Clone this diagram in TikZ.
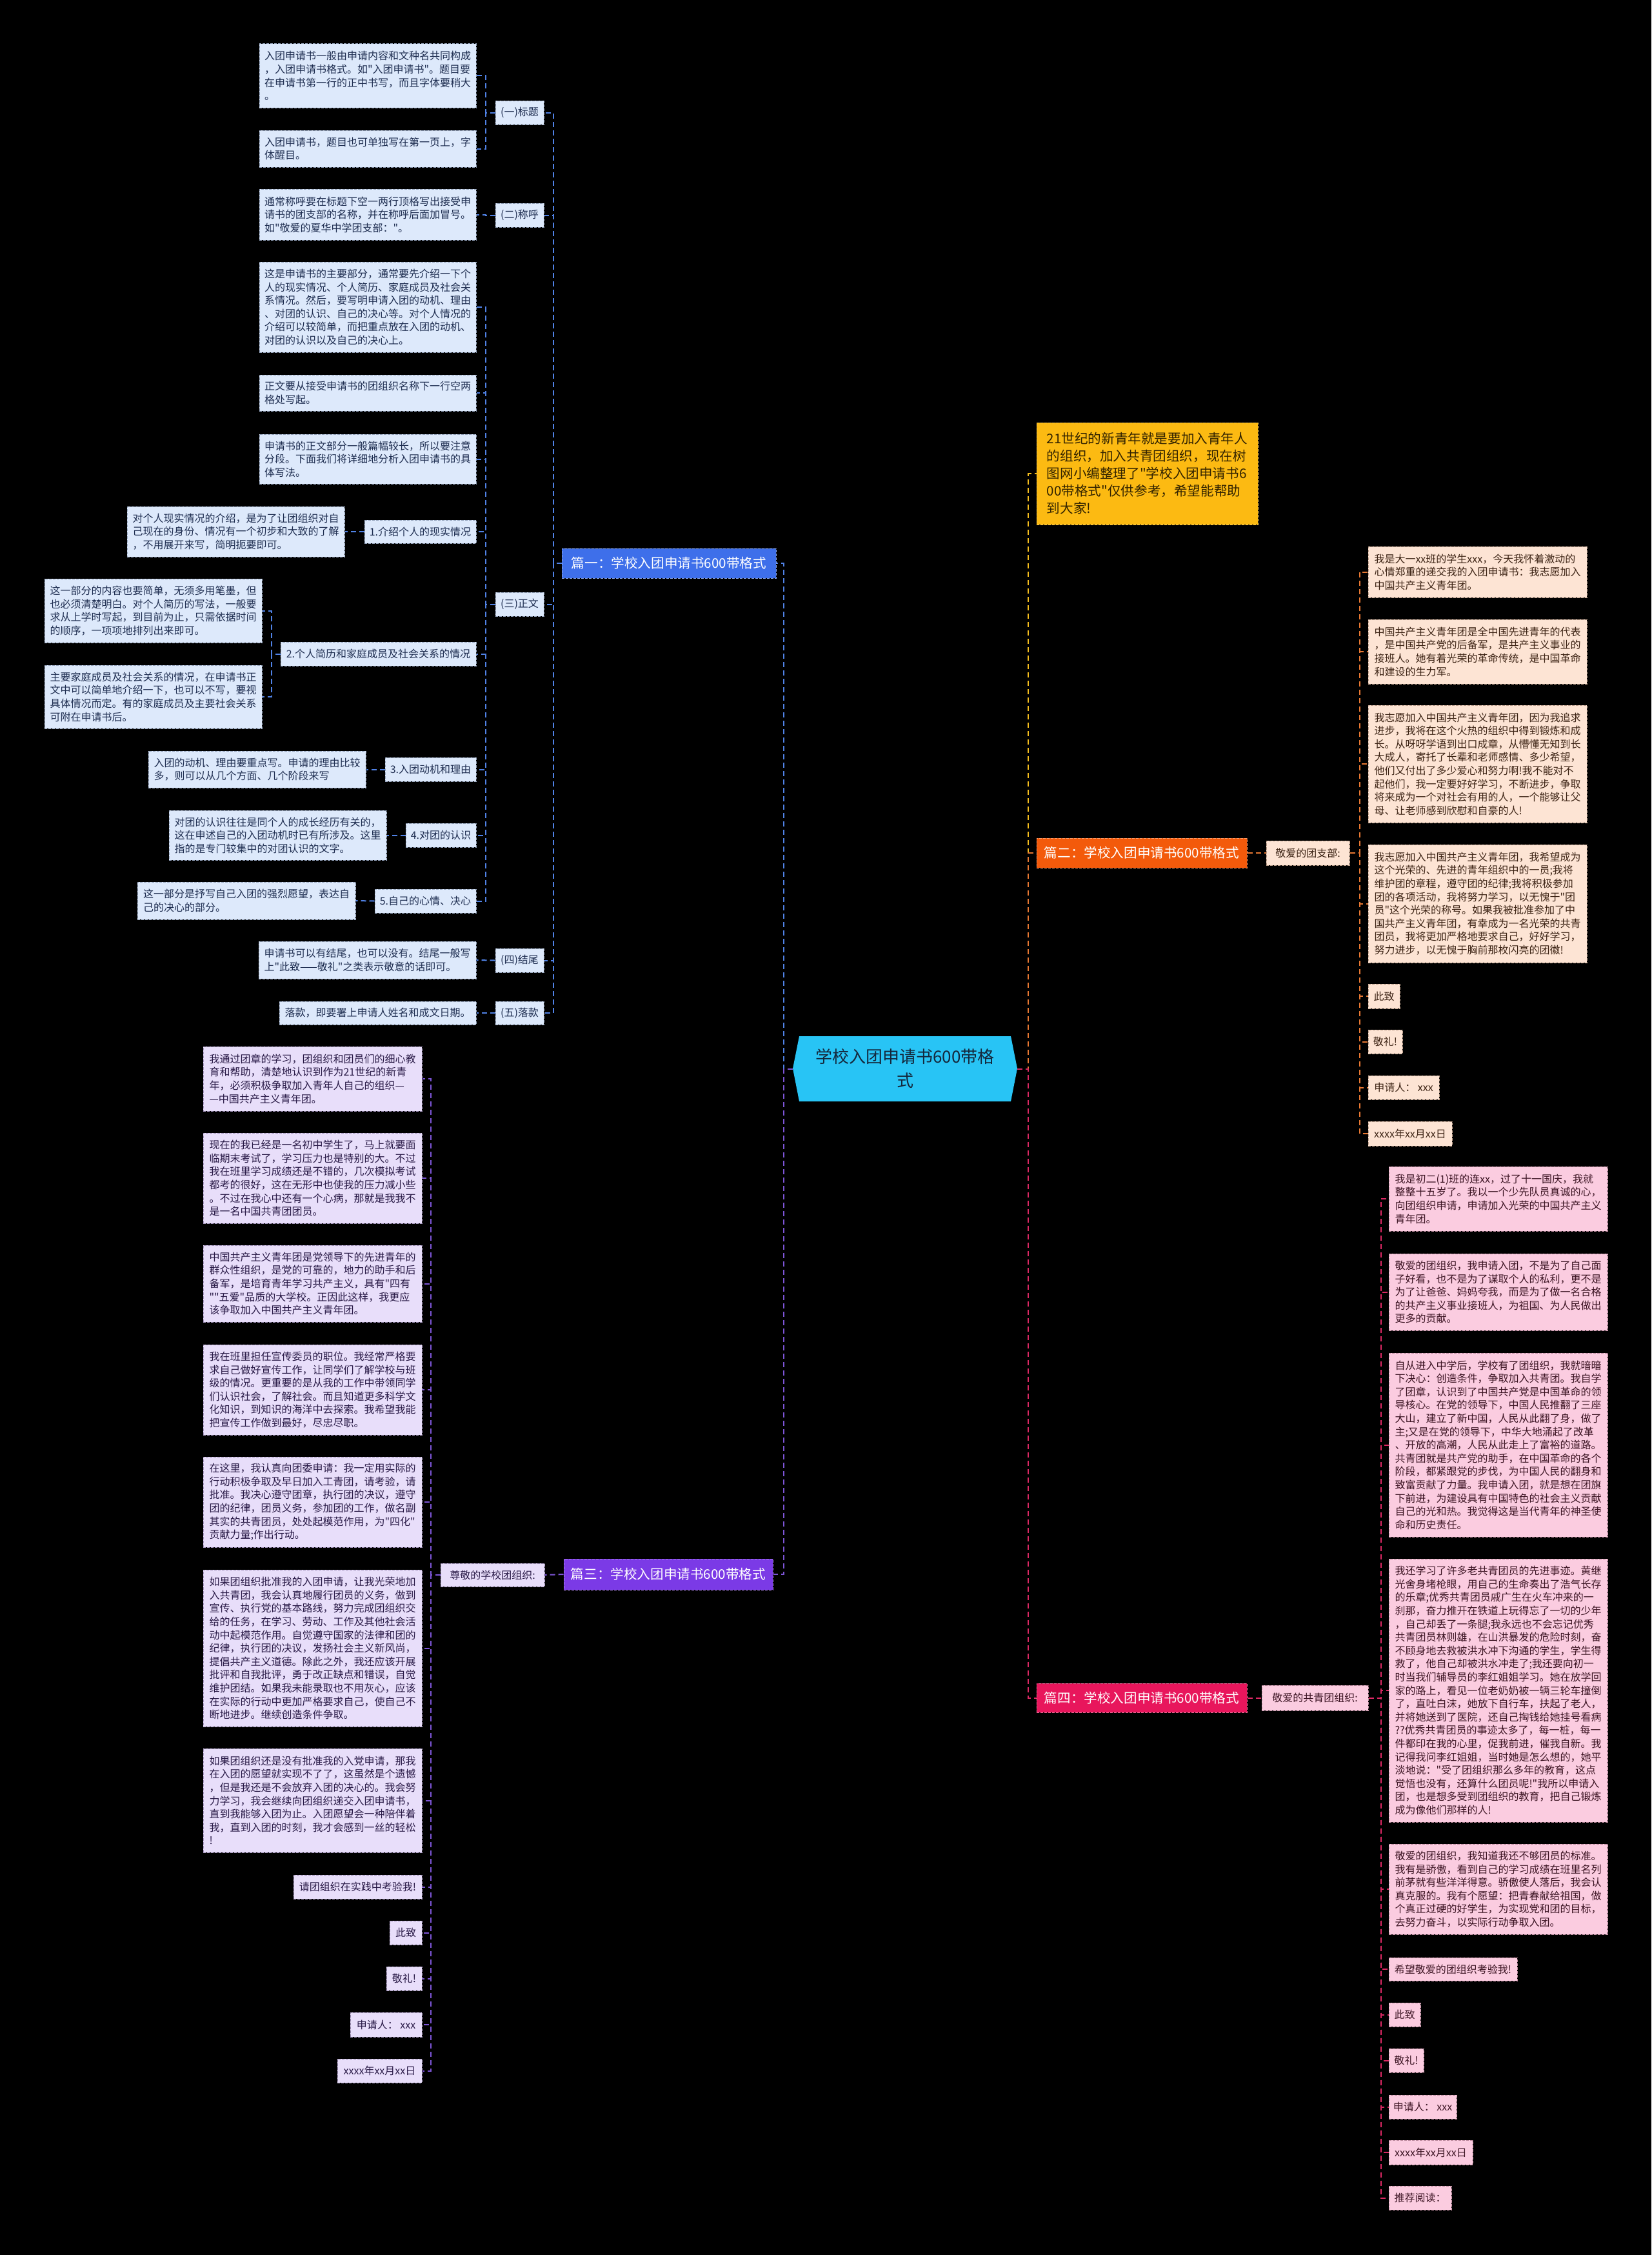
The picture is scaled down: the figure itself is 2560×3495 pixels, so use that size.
\documentclass[tikz,border=0pt]{standalone}
\usepackage{fontspec}
\setmainfont{Noto Sans CJK SC}[Ligatures=TeXOff]
\definecolor{bfill}{RGB}{221,233,251}
\definecolor{btext}{RGB}{30,45,80}
\definecolor{bbord}{RGB}{150,165,190}
\definecolor{ofill}{RGB}{253,228,212}
\definecolor{otext}{RGB}{60,35,20}
\definecolor{obord}{RGB}{190,160,140}
\definecolor{pfill}{RGB}{232,222,250}
\definecolor{ptext}{RGB}{40,25,70}
\definecolor{pbord}{RGB}{165,150,190}
\definecolor{kfill}{RGB}{251,204,224}
\definecolor{ktext}{RGB}{60,20,35}
\definecolor{kbord}{RGB}{190,140,160}
\definecolor{yfill}{RGB}{252,186,18}
\definecolor{ytext}{RGB}{50,35,0}
\definecolor{rootc}{RGB}{40,196,245}
\definecolor{n1c}{RGB}{62,111,234}
\definecolor{n2c}{RGB}{243,90,11}
\definecolor{n3c}{RGB}{123,58,230}
\definecolor{n4c}{RGB}{232,22,92}
\definecolor{lnblue}{RGB}{80,130,230}
\definecolor{lnorg}{RGB}{232,120,50}
\definecolor{lnpur}{RGB}{125,85,215}
\definecolor{lncrm}{RGB}{220,40,100}
\definecolor{lnyel}{RGB}{245,190,30}
\tikzset{
  box/.style={rectangle, inner xsep=3pt, inner ysep=1pt, align=left,
    font=\fontsize{8}{10.3}\selectfont, dash pattern=on 2pt off 1pt, line width=0.5pt},
  bbox/.style={box, fill=bfill, draw=bbord, text=btext},
  obox/.style={box, fill=ofill, draw=obord, text=otext},
  pbox/.style={box, fill=pfill, draw=pbord, text=ptext},
  kbox/.style={box, fill=kfill, draw=kbord, text=ktext},
  ybox/.style={box, fill=yfill, draw=yfill!70!white, text=ytext, font=\fontsize{10.3}{13.5}\selectfont},
  branch/.style={rectangle, inner sep=2pt, font=\fontsize{10.3}{12}\selectfont, text=white,
    dash pattern=on 2pt off 1pt, line width=0.5pt},
  lb/.style={draw=lnblue, line width=1pt, dash pattern=on 4pt off 2.5pt},
  lo/.style={draw=lnorg, line width=1pt, dash pattern=on 4pt off 2.5pt},
  lp/.style={draw=lnpur, line width=1pt, dash pattern=on 4pt off 2.5pt},
  lc/.style={draw=lncrm, line width=1pt, dash pattern=on 4pt off 2.5pt},
  ly/.style={draw=lnyel, line width=1pt, dash pattern=on 4pt off 2.5pt},
}
\newcommand\bx[7]{%
  \pgfmathsetmacro\bxw{(#5-#3)*0.5}%
  \pgfmathsetmacro\bxh{(#6-#4)*0.5}%
  \pgfmathsetmacro\bxx{(#3+#5)/2}%
  \pgfmathsetmacro\bxy{(#4+#6)/2}%
  \node[#1,minimum width=\bxw pt,minimum height=\bxh pt] (#2) at (\bxx,\bxy) {#7};%
}
\begin{document}
\begin{tikzpicture}[x=0.5pt,y=-0.5pt]
\useasboundingbox (0,0) rectangle (2560,3495);
\fill[black] (0,0) rectangle (2560,3495);
% root
\fill[rootc] (1239,1606) -- (1229,1656) -- (1239,1707) -- (1567,1707) -- (1577,1656) -- (1567,1606) -- cycle;
\bx{rectangle, inner sep=0pt, align=center, text={rgb,255:red,20;green,40;blue,60}, font=\fontsize{13}{18.5}\selectfont}{root}{1229}{1606}{1577}{1707}{学校入团申请书600带格\\式}
% branch 1
\bx{branch, fill=n1c, draw=n1c!60!white}{p1}{871}{850}{1203}{896}{篇一：学校入团申请书600带格式}
\bx{bbox, align=center}{s1}{768}{156}{843}{193}{(一)标题}
\bx{bbox, align=center}{s2}{768}{315}{843}{352}{(二)称呼}
\bx{bbox, align=center}{s3}{768}{918}{843}{955}{(三)正文}
\bx{bbox, align=center}{s4}{768}{1470}{843}{1507}{(四)结尾}
\bx{bbox, align=center}{s5}{768}{1552}{843}{1588}{(五)落款}
\bx{bbox}{b1a}{402}{68}{738}{167}{入团申请书一般由申请内容和文种名共同构成\\，入团申请书格式。如"入团申请书"。题目要\\在申请书第一行的正中书写，而且字体要稍大\\。}
\bx{bbox}{b1b}{402}{202}{738}{259}{入团申请书，题目也可单独写在第一页上，字\\体醒目。}
\bx{bbox}{b2}{402}{293}{738}{372}{通常称呼要在标题下空一两行顶格写出接受申\\请书的团支部的名称，并在称呼后面加冒号。\\如"敬爱的夏华中学团支部："。}
\bx{bbox}{b3a}{402}{406}{738}{546}{这是申请书的主要部分，通常要先介绍一下个\\人的现实情况、个人简历、家庭成员及社会关\\系情况。然后，要写明申请入团的动机、理由\\、对团的认识、自己的决心等。对个人情况的\\介绍可以较简单，而把重点放在入团的动机、\\对团的认识以及自己的决心上。}
\bx{bbox}{b3b}{402}{581}{738}{637}{正文要从接受申请书的团组织名称下一行空两\\格处写起。}
\bx{bbox}{b3c}{402}{673}{738}{750}{申请书的正文部分一般篇幅较长，所以要注意\\分段。下面我们将详细地分析入团申请书的具\\体写法。}
\bx{bbox, align=center}{t1}{565}{806}{738}{842}{1.介绍个人的现实情况}
\bx{bbox}{t1c}{197}{785}{534}{863}{对个人现实情况的介绍，是为了让团组织对自\\己现在的身份、情况有一个初步和大致的了解\\，不用展开来写，简明扼要即可。}
\bx{bbox, align=center}{t2}{435}{995}{738}{1032}{2.个人简历和家庭成员及社会关系的情况}
\bx{bbox}{t2a}{69}{897}{406}{996}{这一部分的内容也要简单，无须多用笔墨，但\\也必须清楚明白。对个人简历的写法，一般要\\求从上学时写起，到目前为止，只需依据时间\\的顺序，一项项地排列出来即可。}
\bx{bbox}{t2b}{69}{1031}{406}{1129}{主要家庭成员及社会关系的情况，在申请书正\\文中可以简单地介绍一下，也可以不写，要视\\具体情况而定。有的家庭成员及主要社会关系\\可附在申请书后。}
\bx{bbox, align=center}{t3}{597}{1174}{738}{1211}{3.入团动机和理由}
\bx{bbox}{t3c}{230}{1164}{567}{1221}{入团的动机、理由要重点写。申请的理由比较\\多，则可以从几个方面、几个阶段来写}
\bx{bbox, align=center}{t4}{629}{1276}{738}{1313}{4.对团的认识}
\bx{bbox}{t4c}{262}{1256}{599}{1333}{对团的认识往往是同个人的成长经历有关的，\\这在申述自己的入团动机时已有所涉及。这里\\指的是专门较集中的对团认识的文字。}
\bx{bbox, align=center}{t5}{581}{1378}{738}{1415}{5.自己的心情、决心}
\bx{bbox}{t5c}{213}{1367}{551}{1425}{这一部分是抒写自己入团的强烈愿望，表达自\\己的决心的部分。}
\bx{bbox}{s4c}{401}{1459}{738}{1517}{申请书可以有结尾，也可以没有。结尾一般写\\上"此致——敬礼"之类表示敬意的话即可。}
\bx{bbox}{s5c}{433}{1552}{738}{1588}{落款，即要署上申请人姓名和成文日期。}
% branch 2
\bx{ybox}{intro}{1607}{655}{1950}{813}{21世纪的新青年就是要加入青年人\\的组织，加入共青团组织，现在树\\图网小编整理了"学校入团申请书6\\00带格式"仅供参考，希望能帮助\\到大家!}
\bx{branch, fill=n2c, draw=n2c!60!white}{p2}{1607}{1299}{1933}{1345}{篇二：学校入团申请书600带格式}
\bx{obox, align=center}{d2}{1963}{1303}{2092}{1341}{敬爱的团支部:}
\bx{obox}{e1}{2121}{847}{2460}{926}{我是大一xx班的学生xxx，今天我怀着激动的\\心情郑重的递交我的入团申请书：我志愿加入\\中国共产主义青年团。}
\bx{obox}{e2}{2121}{960}{2460}{1060}{中国共产主义青年团是全中国先进青年的代表\\，是中国共产党的后备军，是共产主义事业的\\接班人。她有着光荣的革命传统，是中国革命\\和建设的生力军。}
\bx{obox}{e3}{2121}{1093}{2460}{1275}{我志愿加入中国共产主义青年团，因为我追求\\进步，我将在这个火热的组织中得到锻炼和成\\长。从呀呀学语到出口成章，从懵懂无知到长\\大成人，寄托了长辈和老师感情、多少希望，\\他们又付出了多少爱心和努力啊!我不能对不\\起他们，我一定要好好学习，不断进步，争取\\将来成为一个对社会有用的人，一个能够让父\\母、让老师感到欣慰和自豪的人!}
\bx{obox}{e4}{2121}{1309}{2460}{1492}{我志愿加入中国共产主义青年团，我希望成为\\这个光荣的、先进的青年组织中的一员;我将\\维护团的章程，遵守团的纪律;我将积极参加\\团的各项活动，我将努力学习，以无愧于"团\\员"这个光荣的称号。如果我被批准参加了中\\国共产主义青年团，有幸成为一名光荣的共青\\团员，我将更加严格地要求自己，好好学习，\\努力进步，以无愧于胸前那枚闪亮的团徽!}
\bx{obox, align=center}{e5}{2121}{1525}{2170}{1563}{此致}
\bx{obox, align=center}{e6}{2121}{1596}{2174}{1633}{敬礼!}
\bx{obox, align=center}{e7}{2121}{1667}{2231}{1704}{申请人： xxx}
\bx{obox, align=center}{e8}{2121}{1738}{2251}{1776}{xxxx年xx月xx日}
% branch 3
\bx{branch, fill=n3c, draw=n3c!60!white}{p3}{874}{2416}{1198}{2464}{篇三：学校入团申请书600带格式}
\bx{pbox, align=center}{d3}{683}{2423}{844}{2459}{尊敬的学校团组织:}
\bx{pbox}{c1}{315}{1622}{654}{1722}{我通过团章的学习，团组织和团员们的细心教\\育和帮助，清楚地认识到作为21世纪的新青\\年，必须积极争取加入青年人自己的组织—\\—中国共产主义青年团。}
\bx{pbox}{c2}{315}{1756}{654}{1896}{现在的我已经是一名初中学生了，马上就要面\\临期末考试了，学习压力也是特别的大。不过\\我在班里学习成绩还是不错的，几次模拟考试\\都考的很好，这在无形中也使我的压力减小些\\。不过在我心中还有一个心病，那就是我我不\\是一名中国共青团团员。}
\bx{pbox}{c3}{315}{1930}{654}{2049}{中国共产主义青年团是党领导下的先进青年的\\群众性组织，是党的可靠的，地力的助手和后\\备军，是培育青年学习共产主义，具有"四有\\""五爱"品质的大学校。正因此这样，我更应\\该争取加入中国共产主义青年团。}
\bx{pbox}{c4}{315}{2084}{654}{2224}{我在班里担任宣传委员的职位。我经常严格要\\求自己做好宣传工作，让同学们了解学校与班\\级的情况。更重要的是从我的工作中带领同学\\们认识社会，了解社会。而且知道更多科学文\\化知识，到知识的海洋中去探索。我希望我能\\把宣传工作做到最好，尽忠尽职。}
\bx{pbox}{c5}{315}{2258}{654}{2398}{在这里，我认真向团委申请：我一定用实际的\\行动积极争取及早日加入工青团，请考验，请\\批准。我决心遵守团章，执行团的决议，遵守\\团的纪律，团员义务，参加团的工作，做名副\\其实的共青团员，处处起模范作用，为"四化"\\贡献力量;作出行动。}
\bx{pbox}{c6}{315}{2433}{654}{2676}{如果团组织批准我的入团申请，让我光荣地加\\入共青团，我会认真地履行团员的义务，做到\\宣传、执行党的基本路线，努力完成团组织交\\给的任务，在学习、劳动、工作及其他社会活\\动中起模范作用。自觉遵守国家的法律和团的\\纪律，执行团的决议，发扬社会主义新风尚，\\提倡共产主义道德。除此之外，我还应该开展\\批评和自我批评，勇于改正缺点和错误，自觉\\维护团结。如果我未能录取也不用灰心，应该\\在实际的行动中更加严格要求自己，使自己不\\断地进步。继续创造条件争取。}
\bx{pbox}{c7}{315}{2710}{654}{2871}{如果团组织还是没有批准我的入党申请，那我\\在入团的愿望就实现不了了，这虽然是个遗憾\\，但是我还是不会放弃入团的决心的。我会努\\力学习，我会继续向团组织递交入团申请书，\\直到我能够入团为止。入团愿望会一种陪伴着\\我，直到入团的时刻，我才会感到一丝的轻松\\!}
\bx{pbox, align=center}{c8}{455}{2906}{654}{2943}{请团组织在实践中考验我!}
\bx{pbox, align=center}{c9}{604}{2977}{654}{3014}{此致}
\bx{pbox, align=center}{c10}{599}{3048}{654}{3085}{敬礼!}
\bx{pbox, align=center}{c11}{543}{3119}{654}{3157}{申请人： xxx}
\bx{pbox, align=center}{c12}{523}{3191}{654}{3228}{xxxx年xx月xx日}
% branch 4
\bx{branch, fill=n4c, draw=n4c!60!white}{p4}{1607}{2609}{1933}{2654}{篇四：学校入团申请书600带格式}
\bx{kbox, align=center}{d4}{1956}{2612}{2121}{2651}{敬爱的共青团组织:}
\bx{kbox}{f1}{2153}{1808}{2492}{1908}{我是初二(1)班的连xx，过了十一国庆，我就\\整整十五岁了。我以一个少先队员真诚的心，\\向团组织申请，申请加入光荣的中国共产主义\\青年团。}
\bx{kbox}{f2}{2153}{1943}{2492}{2062}{敬爱的团组织，我申请入团，不是为了自己面\\子好看，也不是为了谋取个人的私利，更不是\\为了让爸爸、妈妈夸我，而是为了做一名合格\\的共产主义事业接班人，为祖国、为人民做出\\更多的贡献。}
\bx{kbox}{f3}{2153}{2097}{2492}{2382}{自从进入中学后，学校有了团组织，我就暗暗\\下决心：创造条件，争取加入共青团。我自学\\了团章，认识到了中国共产党是中国革命的领\\导核心。在党的领导下，中国人民推翻了三座\\大山，建立了新中国，人民从此翻了身，做了\\主;又是在党的领导下，中华大地涌起了改革\\、开放的高潮，人民从此走上了富裕的道路。\\共青团就是共产党的助手，在中国革命的各个\\阶段，都紧跟党的步伐，为中国人民的翻身和\\致富贡献了力量。我申请入团，就是想在团旗\\下前进，为建设具有中国特色的社会主义贡献\\自己的光和热。我觉得这是当代青年的神圣使\\命和历史责任。}
\bx{kbox}{f4}{2153}{2416}{2492}{2824}{我还学习了许多老共青团员的先进事迹。黄继\\光舍身堵枪眼，用自己的生命奏出了浩气长存\\的乐章;优秀共青团员戚广生在火车冲来的一\\刹那，奋力推开在铁道上玩得忘了一切的少年\\，自己却丢了一条腿;我永远也不会忘记优秀\\共青团员林则雄，在山洪暴发的危险时刻，奋\\不顾身地去救被洪水冲下沟通的学生，学生得\\救了，他自己却被洪水冲走了;我还要向初一\\时当我们辅导员的李红姐姐学习。她在放学回\\家的路上，看见一位老奶奶被一辆三轮车撞倒\\了，直吐白沫，她放下自行车，扶起了老人，\\并将她送到了医院，还自己掏钱给她挂号看病\\??优秀共青团员的事迹太多了，每一桩，每一\\件都印在我的心里，促我前进，催我自新。我\\记得我问李红姐姐，当时她是怎么想的，她平\\淡地说："受了团组织那么多年的教育，这点\\觉悟也没有，还算什么团员呢!"我所以申请入\\团，也是想多受到团组织的教育，把自己锻炼\\成为像他们那样的人!}
\bx{kbox}{f5}{2153}{2858}{2492}{2998}{敬爱的团组织，我知道我还不够团员的标准。\\我有是骄傲，看到自己的学习成绩在班里名列\\前茅就有些洋洋得意。骄傲使人落后，我会认\\真克服的。我有个愿望：把青春献给祖国，做\\个真正过硬的好学生，为实现党和团的目标，\\去努力奋斗，以实际行动争取入团。}
\bx{kbox, align=center}{f6}{2153}{3034}{2352}{3070}{希望敬爱的团组织考验我!}
\bx{kbox, align=center}{f7}{2153}{3104}{2202}{3141}{此致}
\bx{kbox, align=center}{f8}{2153}{3175}{2207}{3212}{敬礼!}
\bx{kbox, align=center}{f9}{2153}{3247}{2258}{3284}{申请人： xxx}
\bx{kbox, align=center}{f10}{2153}{3317}{2283}{3355}{xxxx年xx月xx日}
\bx{kbox, align=center}{f11}{2153}{3388}{2250}{3425}{推荐阅读：}
% connectors root
\draw[lb] (root.west) -- ++(-14,0) |- (p1.east);
\draw[lp] (root.west) -- ++(-14,0) |- (p3.east);
\draw[ly] (root.east) -- ++(17,0) |- (intro.west);
\draw[lo] (root.east) -- ++(17,0) |- (p2.west);
\draw[lc] (root.east) -- ++(17,0) |- (p4.west);
% branch 1 connectors
\foreach \n in {s1,s2,s3,s4,s5} \draw[lb] (p1.west) -- ++(-13,0) |- (\n.east);
\foreach \n in {b1a,b1b} \draw[lb] (s1.west) -- ++(-15,0) |- (\n.east);
\draw[lb] (s2.west) -- ++(-15,0) |- (b2.east);
\foreach \n in {b3a,b3b,b3c,t1,t2,t3,t4,t5} \draw[lb] (s3.west) -- ++(-15,0) |- (\n.east);
\draw[lb] (t1.west) -- (t1c.east);
\foreach \n in {t2a,t2b} \draw[lb] (t2.west) -- ++(-14,0) |- (\n.east);
\draw[lb] (t3.west) -- (t3c.east);
\draw[lb] (t4.west) -- (t4c.east);
\draw[lb] (t5.west) -- (t5c.east);
\draw[lb] (s4.west) -- (s4c.east);
\draw[lb] (s5.west) -- (s5c.east);
% branch 2 connectors
\draw[lo] (p2.east) -- (d2.west);
\foreach \n in {e1,e2,e3,e4,e5,e6,e7,e8} \draw[lo] (d2.east) -- ++(15,0) |- (\n.west);
% branch 3 connectors
\draw[lp] (p3.west) -- (d3.east);
\foreach \n in {c1,c2,c3,c4,c5,c6,c7,c8,c9,c10,c11,c12} \draw[lp] (d3.west) -- ++(-15,0) |- (\n.east);
% branch 4 connectors
\draw[lc] (p4.east) -- (d4.west);
\foreach \n in {f1,f2,f3,f4,f5,f6,f7,f8,f9,f10,f11} \draw[lc] (d4.east) -- ++(19,0) |- (\n.west);
\end{tikzpicture}
\end{document}
